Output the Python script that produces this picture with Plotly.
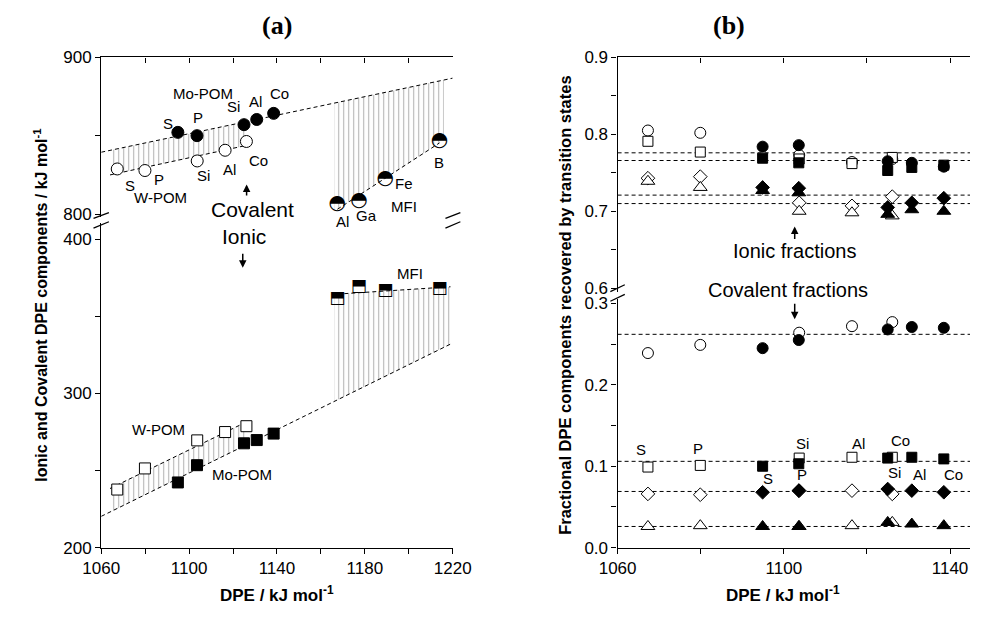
import numpy as np
import plotly.graph_objects as go

W, H = 989, 619
FONT = "Liberation Sans, Arial, sans-serif"

# ---------------- Panel (a) data ----------------
wpom_x = [1067.3, 1079.9, 1103.7, 1116.4, 1126.1]
wpom_cov = [829.0, 828.0, 834.1, 840.9, 846.5]
wpom_ion = [237.7, 251.4, 269.6, 275.0, 278.8]

mopom_x = [1094.9, 1103.6, 1125.0, 1130.8, 1138.5]
mopom_cov = [852.3, 850.2, 857.2, 860.5, 864.4]
mopom_ion = [242.3, 253.5, 267.7, 269.8, 274.0]

mfi_x = [1167.5, 1177.3, 1189.3, 1214.0]
mfi_cov = [806.4, 808.5, 822.8, 846.5]
mfi_ion = [361.4, 369.2, 366.7, 367.9]

# ---------------- Panel (b) data ----------------
bw_x = wpom_x
bm_x = mopom_x
# ionic fractions
bw_circ_ion = [0.805, 0.802, 0.773, 0.764, 0.768]
bw_sq_ion = [0.791, 0.777, 0.768, 0.762, 0.770]
bw_dia_ion = [0.743, 0.745, 0.711, 0.707, 0.719]
bw_tri_ion = [0.739, 0.731, 0.700, 0.698, 0.694]
bm_circ_ion = [0.784, 0.786, 0.765, 0.763, 0.758]
bm_sq_ion = [0.769, 0.763, 0.753, 0.757, 0.760]
bm_dia_ion = [0.731, 0.730, 0.705, 0.711, 0.717]
bm_tri_ion = [0.727, 0.724, 0.696, 0.702, 0.700]
# covalent fractions
bw_circ_cov = [0.239, 0.249, 0.264, 0.272, 0.277]
bm_circ_cov = [0.245, 0.255, 0.268, 0.271, 0.270]
bw_sq_cov = [0.099, 0.101, 0.110, 0.111, 0.111]
bm_sq_cov = [0.100, 0.103, 0.110, 0.111, 0.109]
bw_dia_cov = [0.066, 0.065, 0.070, 0.070, 0.066]
bm_dia_cov = [0.068, 0.070, 0.072, 0.070, 0.068]
bw_tri_cov = [0.026, 0.027, 0.026, 0.027, 0.031]
bm_tri_cov = [0.026, 0.026, 0.031, 0.029, 0.027]

ion_ref = [0.776, 0.766, 0.721, 0.710]
cov_ref = [0.262, 0.106, 0.069, 0.026]

# axis ticks
xa_ticks = list(range(1060, 1221, 20))
xa_text = [str(v) if (v - 1060) % 40 == 0 else "" for v in xa_ticks]
xb_ticks = list(range(1060, 1141, 20))
xb_text = [str(v) if (v - 1060) % 40 == 0 else "" for v in xb_ticks]

fig = go.Figure()

def fit(xs, ys):
    p = np.polyfit(xs, ys, 1)
    return lambda x: np.polyval(p, np.asarray(x, dtype=float))

f_mo_cov = fit(mopom_x, mopom_cov)
f_w_cov = fit(wpom_x, wpom_cov)
f_mfi_cov = fit(mfi_x, mfi_cov)
f_mo_ion = fit(mopom_x, mopom_ion)
f_w_ion = fit(wpom_x, wpom_ion)
f_mfi_ion = fit(mfi_x, mfi_ion)

HATCH = dict(shape="|", size=5, solidity=0.22, fgcolor="#b5b5b5",
             bgcolor="rgba(255,255,255,0)", fillmode="replace")
DASH = dict(color="black", width=1, dash="4px,3px")

def hatch(xr, flo, fhi, xa, ya):
    xs = np.array(xr, dtype=float)
    fig.add_trace(go.Scatter(x=xs, y=flo(xs), mode="lines", line=dict(width=0),
                             hoverinfo="skip", showlegend=False, xaxis=xa, yaxis=ya))
    fig.add_trace(go.Scatter(x=xs, y=fhi(xs), mode="lines", line=dict(width=0),
                             fill="tonexty", fillcolor="rgba(0,0,0,0)", fillpattern=HATCH,
                             hoverinfo="skip", showlegend=False, xaxis=xa, yaxis=ya))

def dline(xr, f, xa, ya):
    xs = np.array(xr, dtype=float)
    fig.add_trace(go.Scatter(x=xs, y=f(xs), mode="lines", line=DASH,
                             hoverinfo="skip", showlegend=False, xaxis=xa, yaxis=ya))

# ---- Panel (a) top (covalent) ----
hatch([1064, max(wpom_x)], f_w_cov, f_mo_cov, "x2", "y2")
hatch([1166, 1216], f_mfi_cov, f_mo_cov, "x2", "y2")
dline([1060, 1220], f_mo_cov, "x2", "y2")
dline([1064, max(wpom_x)], f_w_cov, "x2", "y2")
dline([min(mfi_x), max(mfi_x)], f_mfi_cov, "x2", "y2")

# ---- Panel (a) bottom (ionic) ----
hatch([1064, max(wpom_x)], f_mo_ion, f_w_ion, "x", "y")
hatch([1166, 1219], f_mo_ion, f_mfi_ion, "x", "y")
dline([1060, 1220], f_mo_ion, "x", "y")
dline([1064, max(wpom_x)], f_w_ion, "x", "y")
dline([min(mfi_x), 1219], f_mfi_ion, "x", "y")

def pts(x, y, sym, filled, size, xa, ya):
    fig.add_trace(go.Scatter(
        x=x, y=y, mode="markers", showlegend=False, xaxis=xa, yaxis=ya,
        marker=dict(symbol=sym, size=size,
                    color="black" if filled else "white",
                    line=dict(color="black", width=1))))

pts(wpom_x, wpom_cov, "circle", False, 12, "x2", "y2")
pts(mopom_x, mopom_cov, "circle", True, 12, "x2", "y2")
pts(wpom_x, wpom_ion, "square", False, 11, "x", "y")
pts(mopom_x, mopom_ion, "square", True, 11, "x", "y")
# half-filled MFI symbols
fig.add_trace(go.Scatter(x=mfi_x, y=mfi_cov, mode="text", text=["\u25d3"] * len(mfi_x),
                         textfont=dict(family="DejaVu Sans", size=20, color="black"),
                         showlegend=False, xaxis="x2", yaxis="y2"))
fig.add_trace(go.Scatter(x=mfi_x, y=mfi_ion, mode="text", text=["\u2b12"] * len(mfi_x),
                         textfont=dict(family="DejaVu Sans", size=17, color="black"),
                         showlegend=False, xaxis="x", yaxis="y"))

# ---- Panel (b) ----
for lv in ion_ref:
    fig.add_trace(go.Scatter(x=[1060, 1150], y=[lv, lv], mode="lines", line=DASH,
                             hoverinfo="skip", showlegend=False, xaxis="x4", yaxis="y6"))
for lv in cov_ref:
    fig.add_trace(go.Scatter(x=[1060, 1150], y=[lv, lv], mode="lines", line=DASH,
                             hoverinfo="skip", showlegend=False, xaxis="x3", yaxis="y5"))

SZ = {"circle": 11, "square": 10, "diamond": 10.5, "triangle-up": 12}
open_top = [(bw_circ_ion, "circle"), (bw_sq_ion, "square"), (bw_dia_ion, "diamond"), (bw_tri_ion, "triangle-up")]
fill_top = [(bm_circ_ion, "circle"), (bm_sq_ion, "square"), (bm_dia_ion, "diamond"), (bm_tri_ion, "triangle-up")]
open_bot = [(bw_circ_cov, "circle"), (bw_sq_cov, "square"), (bw_dia_cov, "diamond"), (bw_tri_cov, "triangle-up")]
fill_bot = [(bm_circ_cov, "circle"), (bm_sq_cov, "square"), (bm_dia_cov, "diamond"), (bm_tri_cov, "triangle-up")]
for ys, s in open_top:
    pts(bw_x, ys, s, False, SZ[s], "x4", "y6")
for ys, s in fill_top:
    pts(bm_x, ys, s, True, SZ[s], "x4", "y6")
for ys, s in open_bot:
    pts(bw_x, ys, s, False, SZ[s], "x3", "y5")
for ys, s in fill_bot:
    pts(bm_x, ys, s, True, SZ[s], "x3", "y5")

# ---------------- Layout ----------------
def dom_y(top_px, bot_px):
    return [1 - bot_px / H, 1 - top_px / H]

AX = dict(showline=True, linecolor="black", linewidth=1.3, showgrid=False, zeroline=False,
          ticklen=5, tickwidth=1.2, tickcolor="black",
          tickfont=dict(family=FONT, size=17, color="black"))

xa_dom = [85.5 / W, 451.0 / W]
xb_dom = [622.5 / W, 1.0]

layout = dict(
    width=W, height=H, margin=dict(l=0, r=0, t=0, b=0),
    plot_bgcolor="white", paper_bgcolor="white", showlegend=False,
    font=dict(family=FONT, color="black"),
    xaxis=dict(AX, domain=xa_dom, range=[1060, 1220], anchor="y", ticks="outside",
               tickvals=xa_ticks, ticktext=xa_text),
    xaxis2=dict(AX, domain=xa_dom, matches="x", anchor="y2", side="top", ticks="inside",
                tickvals=xa_ticks, showticklabels=False),
    yaxis=dict(AX, domain=dom_y(221, 555.7), range=[200, 410.5], anchor="x", ticks="outside",
               tickvals=[200, 250, 300, 350, 400], ticktext=["200", "", "300", "", "400"]),
    yaxis2=dict(AX, domain=dom_y(50, 215), range=[798.15, 900], anchor="x2", ticks="outside",
                tickvals=[800, 850, 900], ticktext=["800", "", "900"]),
    yaxis3=dict(AX, overlaying="y", side="right", anchor="x", range=[200, 410.5], ticks="inside",
                tickvals=[200, 250, 300, 350, 400], showticklabels=False),
    yaxis4=dict(AX, overlaying="y2", side="right", anchor="x2", range=[798.15, 900], ticks="inside",
                tickvals=[800, 850, 900], showticklabels=False),
    xaxis3=dict(AX, domain=xb_dom, range=[1060, 1144.8], anchor="y5", ticks="outside",
                tickvals=xb_ticks, ticktext=xb_text),
    xaxis4=dict(AX, domain=xb_dom, matches="x3", anchor="y6", side="top", ticks="inside",
                tickvals=xb_ticks, showticklabels=False),
    yaxis5=dict(AX, domain=dom_y(299, 555.7), range=[0, 0.3056], anchor="x3", ticks="outside",
                tickvals=[0, 0.05, 0.1, 0.15, 0.2, 0.25, 0.3],
                ticktext=["0.0", "", "0.1", "", "0.2", "", "0.3"]),
    yaxis6=dict(AX, domain=dom_y(50, 292), range=[0.59496, 0.9], anchor="x4", ticks="outside",
                tickvals=[0.6, 0.65, 0.7, 0.75, 0.8, 0.85, 0.9],
                ticktext=["0.6", "", "0.7", "", "0.8", "", "0.9"]),
)
fig.update_layout(**layout)

def ann(text, px, py, size=15, bold=False, family=FONT, angle=0):
    return dict(text=("<b>%s</b>" % text) if bold else text, x=px / W, y=1 - py / H,
                xref="paper", yref="paper", showarrow=False, textangle=angle,
                font=dict(size=size, family=family, color="black"),
                xanchor="center", yanchor="middle")

def arrow(x, y_tail, y_head):
    return dict(text="", x=x / W, y=1 - y_head / H, xref="paper", yref="paper",
                ax=0, ay=y_tail - y_head, showarrow=True, arrowhead=2, arrowsize=1,
                arrowwidth=1.5, arrowcolor="black")

anns = [
    ann("(a)", 268, 17, 26, True, "Liberation Serif, Times New Roman, serif"),
    ann("(b)", 738, 17, 26, True, "Liberation Serif, Times New Roman, serif"),
    ann("Ionic and Covalent DPE components / kJ mol<sup>-1</sup>", 22, 306, 16, True, angle=-90),
    ann("Fractional DPE components recovered by transition states", 567, 306, 16.5, True, angle=-90),
    ann("DPE / kJ mol<sup>-1</sup>", 268, 604, 17, True),
    ann("DPE / kJ mol<sup>-1</sup>", 795, 604, 17, True),
    # panel (a) labels
    ann("Mo-POM", 191.7, 86.7), ann("S", 155, 118.3), ann("P", 186, 111.7),
    ann("Si", 223.3, 100.7), ann("Al", 246, 95), ann("Co", 270.7, 86.7),
    ann("S", 115, 181.7), ann("P", 146, 175.7), ann("W-POM", 147.3, 194),
    ann("Si", 191.7, 171.7), ann("Al", 219.3, 166), ann("Co", 249.3, 156.7),
    ann("Covalent", 243.3, 206.7, 21), ann("Ionic", 234, 235, 21),
    ann("Al", 336.7, 219.3), ann("Ga", 361.7, 212.7), ann("Fe", 400, 180),
    ann("MFI", 400, 204), ann("B", 436.7, 158.3),
    ann("MFI", 406.7, 273.3), ann("W-POM", 145, 434), ann("Mo-POM", 231.7, 480),
    arrow(236.7, 193.5, 181), arrow(232.7, 251.5, 267),
    # panel (b) labels
    ann("Ionic fractions", 806, 250, 20), ann("Covalent fractions", 800, 290, 20),
    arrow(806.7, 238.5, 224.5), arrow(806.7, 303, 320),
    ann("S", 647.3, 454), ann("P", 705.7, 453.3), ann("Si", 815, 448.3),
    ann("Al", 872.7, 448.3), ann("Co", 916.7, 445),
    ann("S", 779.3, 484), ann("P", 814, 480), ann("Si", 910.7, 478.3),
    ann("Al", 936.7, 480), ann("Co", 971.7, 480),
]
fig.update_layout(annotations=anns)

def slash(x0, y0, x1, y1):
    return dict(type="line", xref="paper", yref="paper", x0=x0 / W, y0=1 - y0 / H,
                x1=x1 / W, y1=1 - y1 / H, line=dict(color="black", width=1.3))

fig.update_layout(shapes=[
    slash(77.5, 216, 93.5, 210), slash(77.5, 226, 93.5, 219.5),
    slash(443.5, 216, 459, 210), slash(443.5, 226, 459, 219.5),
    slash(615, 291.5, 630, 284.5), slash(615, 301.5, 630, 294.5),
])

fig.write_html("out.html")
